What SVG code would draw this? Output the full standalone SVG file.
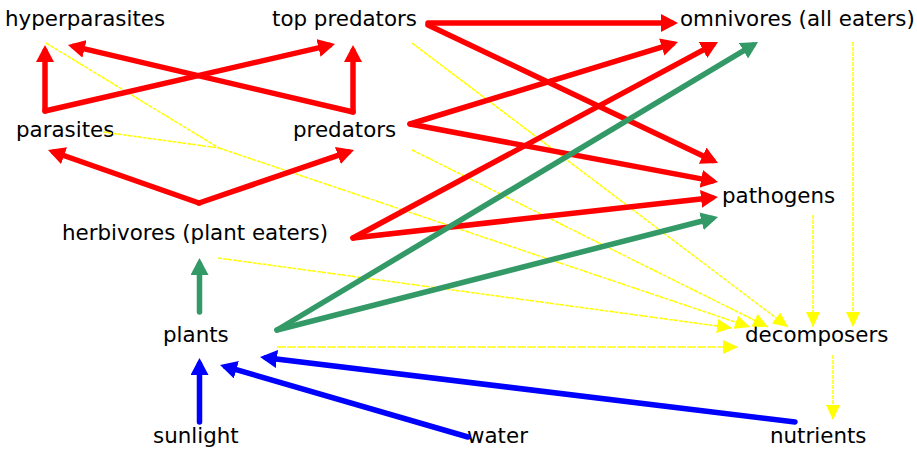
<svg xmlns="http://www.w3.org/2000/svg" width="917" height="450" viewBox="0 0 917 450">
<defs>
<style>
text{font-family:"DejaVu Sans","Liberation Sans",sans-serif;font-size:21.4px;fill:#000}
.r{stroke:#FF0000;stroke-width:5.5;fill:none;stroke-linecap:round;stroke-linejoin:round;marker-end:url(#ar)}
.g{stroke:#339966;stroke-width:5.5;fill:none;stroke-linecap:round;marker-end:url(#ag)}
.b{stroke:#0000FF;stroke-width:5.5;fill:none;stroke-linecap:round;marker-end:url(#ab)}
.y{stroke:#FFFF00;stroke-width:1.5;fill:none;stroke-dasharray:4 1;marker-end:url(#ay)}
.yn{stroke:#FFFF00;stroke-width:1.5;fill:none;stroke-dasharray:4 1}
</style>
<marker id="ar" markerUnits="userSpaceOnUse" markerWidth="18" markerHeight="18" refX="11" refY="9" orient="auto"><path d="M0,0L17,9L0,18z" fill="#FF0000"/></marker>
<marker id="ag" markerUnits="userSpaceOnUse" markerWidth="18" markerHeight="18" refX="11" refY="9" orient="auto"><path d="M0,0L17,9L0,18z" fill="#339966"/></marker>
<marker id="ab" markerUnits="userSpaceOnUse" markerWidth="18" markerHeight="18" refX="11" refY="9" orient="auto"><path d="M0,0L17,9L0,18z" fill="#0000FF"/></marker>
<marker id="ay" markerUnits="userSpaceOnUse" markerWidth="16" markerHeight="14" refX="15" refY="7" orient="auto"><path d="M0,0L15,7L0,14z" fill="#FFFF00"/></marker>
</defs>
<rect width="917" height="450" fill="#fff"/>
<g id="hyperparasites"><text x="5" y="26">hyperparasites</text></g>
<g id="top-predators"><text x="272" y="26">top predators</text></g>
<g id="omnivores"><text x="680" y="26">omnivores (all eaters)</text></g>
<g id="parasites"><text x="16" y="137">parasites</text></g>
<g id="predators"><text x="293" y="137">predators</text></g>
<g id="herbivores"><text x="62" y="240">herbivores (plant eaters)</text></g>
<g id="pathogens"><text x="722" y="203">pathogens</text></g>
<g id="plants"><text x="163" y="342">plants</text></g>
<g id="decomposers"><text x="745" y="342">decomposers</text></g>
<g id="sunlight"><text x="153" y="443">sunlight</text></g>
<g id="water"><text x="467" y="443">water</text></g>
<g id="nutrients"><text x="770" y="443">nutrients</text></g>
<g id="connectors">
<path class="yn" d="M46,43L219,148M103,132L219,148"/>
<path class="y" d="M219,148L750,327"/>
<path class="y" d="M277,347L738,347"/>
<path class="y" d="M218,258L732,328"/>
<path class="y" d="M412,150L768,327"/>
<path class="y" d="M412,43L788,327"/>
<path class="y" d="M813,215L813,327"/>
<path class="y" d="M853,42L853,327"/>
<path class="y" d="M833,355L833,420"/>
<path class="r" d="M45,111L45,51"/>
<path class="r" d="M45,111L329.2,45.4"/>
<path class="r" d="M353,112L353,51"/>
<path class="r" d="M353,112L73.8,46.4"/>
<path class="r" d="M199,203L53.7,152"/>
<path class="r" d="M199,203L348.3,151.9"/>
<path class="r" d="M410,124L672.3,43.8"/>
<path class="r" d="M410,124L712.1,180.9"/>
<path class="r" d="M428,23L672,23"/>
<path class="r" d="M428,25L712.6,160.4"/>
<path class="r" d="M353,238L712.7,44.8"/>
<path class="r" d="M353,238L712,197.7"/>
<path class="g" d="M199.5,312L199.5,264"/>
<path class="g" d="M277,330L752.9,45.1"/>
<path class="g" d="M277,330L712.2,218.5"/>
<path class="b" d="M199.5,422L199.5,364"/>
<path class="b" d="M468,437L225.8,366.7"/>
<path class="b" d="M795,422L266,357.7"/>
</g>
</svg>
